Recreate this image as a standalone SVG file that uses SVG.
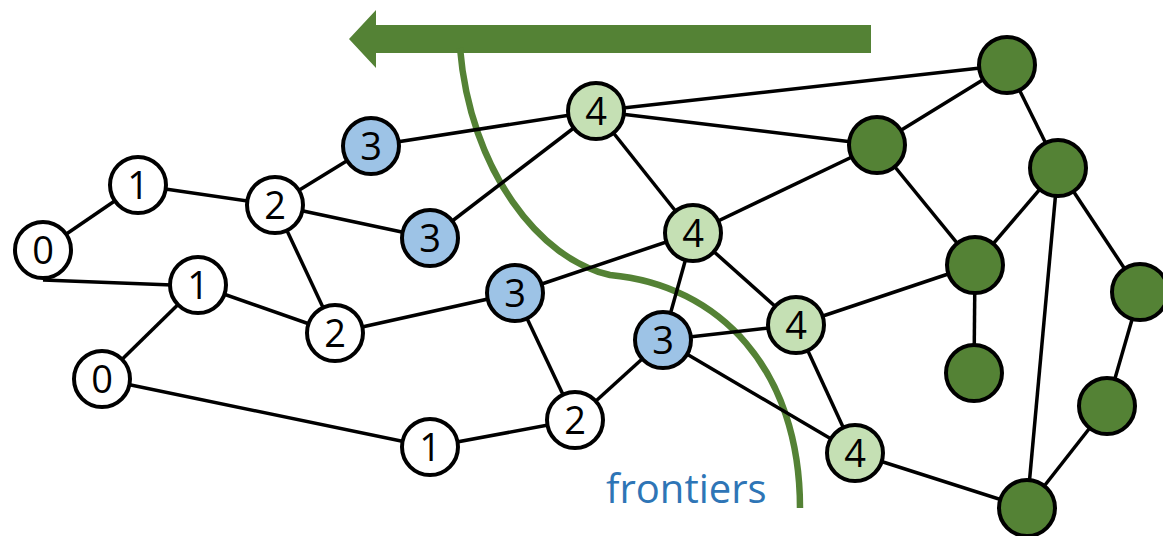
<svg xmlns="http://www.w3.org/2000/svg" width="1163" height="536" viewBox="0 0 1163 536">
<style>
.e{stroke:#000;stroke-width:3.5;fill:none}
circle{stroke:#000;stroke-width:4}
.w{fill:#fff}.b{fill:#9DC3E6}.l{fill:#C5E0B4}.d{fill:#548235}
.t{font-family:"Open Sans","Liberation Sans",sans-serif;font-size:38px;fill:#000;text-anchor:middle}
</style>
<rect width="1163" height="536" fill="#fff"/>
<g id="arrow"><polygon points="349,39 376,10 376,25 871,25 871,53 376,53 376,68" fill="#548235"/></g>
<g id="frontier"><path d="M460,48 C470,170 540,260 610,275 C720,285 800,370 800,508" fill="none" stroke="#548235" stroke-width="6.5"/></g>
<g id="connectors">
<line class="e" x1="43" y1="250" x2="138" y2="185"/>
<line class="e" x1="43" y1="280" x2="198" y2="286"/>
<line class="e" x1="138" y1="185" x2="275" y2="205"/>
<line class="e" x1="198" y1="285" x2="102" y2="379"/>
<line class="e" x1="198" y1="285" x2="335" y2="333"/>
<line class="e" x1="275" y1="205" x2="335" y2="333"/>
<line class="e" x1="275" y1="205" x2="371" y2="146"/>
<line class="e" x1="275" y1="205" x2="430" y2="238"/>
<line class="e" x1="335" y1="333" x2="515" y2="293"/>
<line class="e" x1="102" y1="379" x2="430" y2="447"/>
<line class="e" x1="430" y1="447" x2="575" y2="420"/>
<line class="e" x1="575" y1="420" x2="515" y2="293"/>
<line class="e" x1="575" y1="420" x2="663" y2="340"/>
<line class="e" x1="371" y1="146" x2="596" y2="111"/>
<line class="e" x1="430" y1="238" x2="596" y2="111"/>
<line class="e" x1="515" y1="293" x2="693" y2="233"/>
<line class="e" x1="596" y1="111" x2="1007" y2="65"/>
<line class="e" x1="596" y1="111" x2="877" y2="145"/>
<line class="e" x1="596" y1="111" x2="693" y2="233"/>
<line class="e" x1="693" y1="233" x2="877" y2="145"/>
<line class="e" x1="693" y1="233" x2="663" y2="340"/>
<line class="e" x1="693" y1="233" x2="796" y2="325"/>
<line class="e" x1="663" y1="340" x2="796" y2="325"/>
<line class="e" x1="663" y1="340" x2="855" y2="453"/>
<line class="e" x1="796" y1="325" x2="855" y2="453"/>
<line class="e" x1="796" y1="325" x2="975" y2="265"/>
<line class="e" x1="855" y1="453" x2="1027" y2="508"/>
<line class="e" x1="1007" y1="65" x2="877" y2="145"/>
<line class="e" x1="1007" y1="65" x2="1058" y2="168"/>
<line class="e" x1="877" y1="145" x2="975" y2="265"/>
<line class="e" x1="1058" y1="168" x2="975" y2="265"/>
<line class="e" x1="1058" y1="168" x2="1140" y2="292"/>
<line class="e" x1="1058" y1="168" x2="1027" y2="508"/>
<line class="e" x1="975" y1="265" x2="974" y2="373"/>
<line class="e" x1="1140" y1="292" x2="1107" y2="406"/>
<line class="e" x1="1107" y1="406" x2="1027" y2="508"/>
</g>
<g id="n0a"><circle class="w" cx="43" cy="250" r="28"/><text class="t" x="43" y="264">0</text></g>
<g id="n1a"><circle class="w" cx="138" cy="185" r="28"/><text class="t" x="138" y="199">1</text></g>
<g id="n2a"><circle class="w" cx="275" cy="205" r="28"/><text class="t" x="275" y="219">2</text></g>
<g id="n1b"><circle class="w" cx="198" cy="285" r="28"/><text class="t" x="198" y="299">1</text></g>
<g id="n2b"><circle class="w" cx="335" cy="333" r="28"/><text class="t" x="335" y="347">2</text></g>
<g id="n0b"><circle class="w" cx="102" cy="379" r="28"/><text class="t" x="102" y="393">0</text></g>
<g id="n1c"><circle class="w" cx="430" cy="447" r="28"/><text class="t" x="430" y="461">1</text></g>
<g id="n2c"><circle class="w" cx="575" cy="420" r="28"/><text class="t" x="575" y="434">2</text></g>
<g id="n3a"><circle class="b" cx="371" cy="146" r="28"/><text class="t" x="371" y="160">3</text></g>
<g id="n3b"><circle class="b" cx="430" cy="238" r="28"/><text class="t" x="430" y="252">3</text></g>
<g id="n3c"><circle class="b" cx="515" cy="293" r="28"/><text class="t" x="515" y="307">3</text></g>
<g id="n3d"><circle class="b" cx="663" cy="340" r="28"/><text class="t" x="663" y="354">3</text></g>
<g id="n4a"><circle class="l" cx="596" cy="111" r="28"/><text class="t" x="596" y="125">4</text></g>
<g id="n4b"><circle class="l" cx="693" cy="233" r="28"/><text class="t" x="693" y="247">4</text></g>
<g id="n4c"><circle class="l" cx="796" cy="325" r="28"/><text class="t" x="796" y="339">4</text></g>
<g id="n4d"><circle class="l" cx="855" cy="453" r="28"/><text class="t" x="855" y="467">4</text></g>
<g id="dA"><circle class="d" cx="1007" cy="65" r="28"/></g>
<g id="dB"><circle class="d" cx="877" cy="145" r="28"/></g>
<g id="dC"><circle class="d" cx="1058" cy="168" r="28"/></g>
<g id="dD"><circle class="d" cx="975" cy="265" r="28"/></g>
<g id="dE"><circle class="d" cx="1140" cy="292" r="28"/></g>
<g id="dF"><circle class="d" cx="974" cy="373" r="28"/></g>
<g id="dG"><circle class="d" cx="1107" cy="406" r="28"/></g>
<g id="dH"><circle class="d" cx="1027" cy="508" r="28"/></g>
<g id="label"><text x="606" y="503" font-family="'Open Sans','Liberation Sans',sans-serif" font-size="40" fill="#2E75B6">frontiers</text></g>
</svg>
